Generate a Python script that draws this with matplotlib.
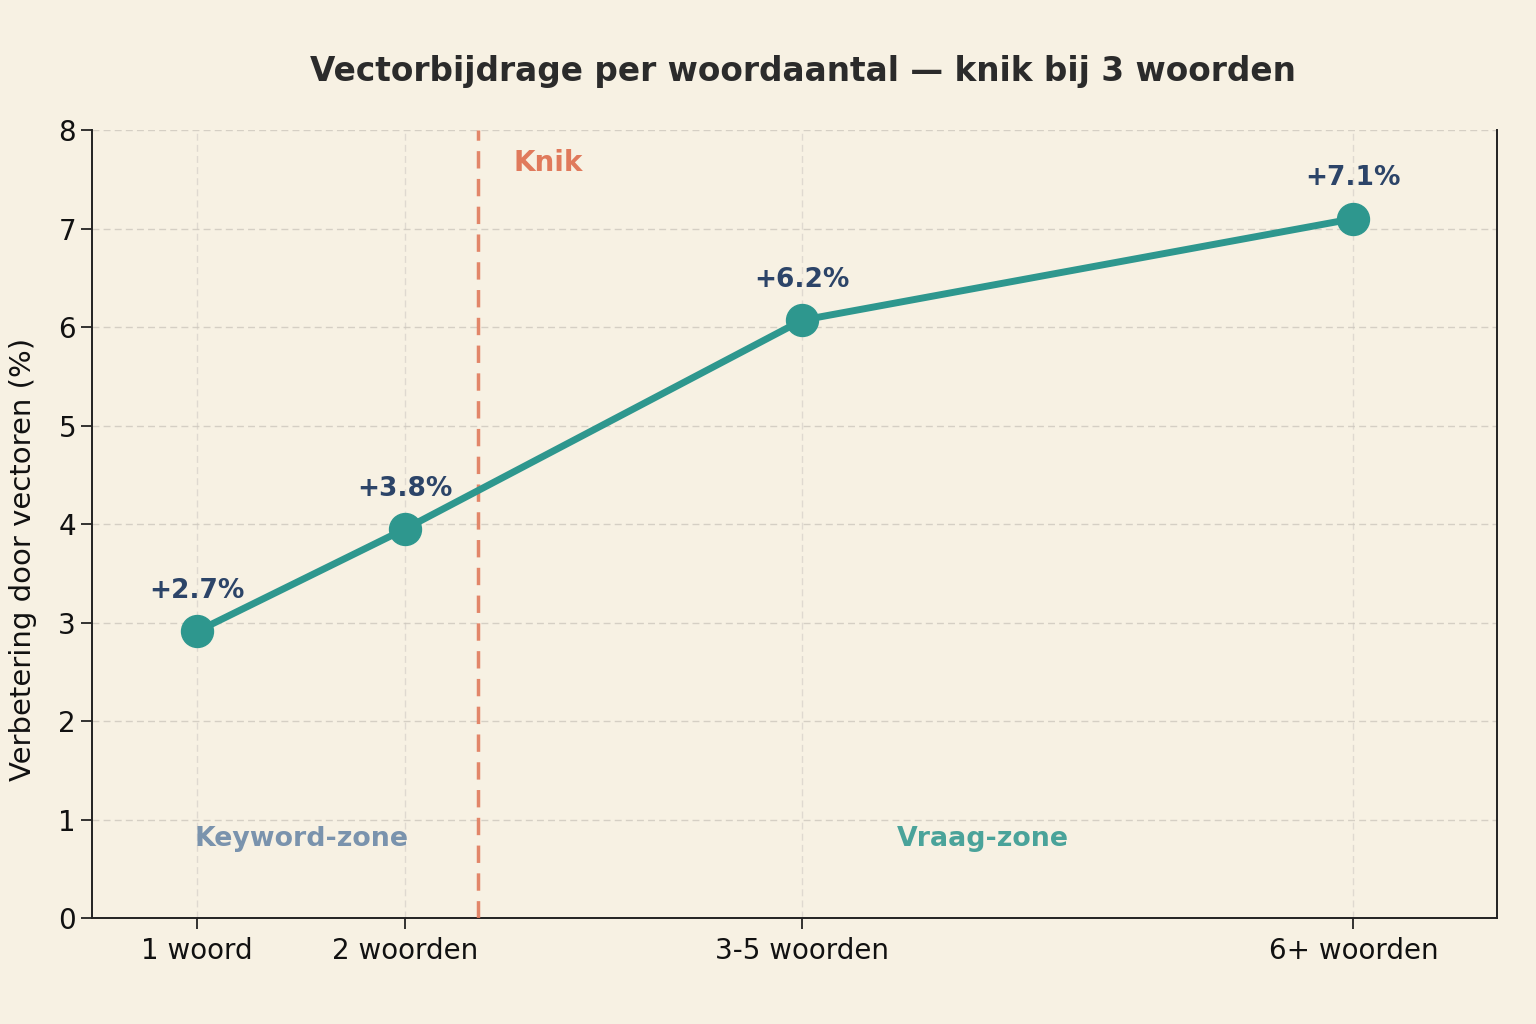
import matplotlib
matplotlib.use("Agg")
import matplotlib.pyplot as plt

# Data
categories = ["1 woord", "2 woorden", "3-5 woorden", "6+ woorden"]
x_pos = [1.0, 2.0, 3.91, 6.56]
values = [2.91, 3.95, 6.07, 7.1]
value_labels = ["+2.7%", "+3.8%", "+6.2%", "+7.1%"]
knik_x = 2.35
y_ticks = [0, 1, 2, 3, 4, 5, 6, 7, 8]

BG = "#f7f1e3"
TEAL = "#2e978e"
NAVY = "#2c4468"
KNIK = "#e07a5c"

plt.rcParams['font.family'] = ['DejaVu Sans']

fig = plt.figure(figsize=(15.36, 10.24), dpi=100, facecolor=BG)
ax = fig.add_axes([0.0599, 0.1035, 0.9147, 0.7695], facecolor=BG)

ax.plot(x_pos, values, color=TEAL, lw=5, marker='o', markersize=23,
        markerfacecolor=TEAL, markeredgecolor=TEAL, zorder=4)

for x, v, lab in zip(x_pos, values, value_labels):
    ax.annotate(lab, (x, v), xytext=(0, 29), textcoords='offset points',
                ha='center', va='center', fontsize=19, fontweight='bold',
                color=NAVY, zorder=5)

ax.axvline(knik_x, color=KNIK, lw=2.5, ls=(0, (5, 3)), alpha=0.9, zorder=3)
ax.text(knik_x + 0.17, 7.67, "Knik", color=KNIK, fontsize=20,
        fontweight='bold', ha='left', va='center')

ax.text(0.99, 0.8, "Keyword-zone", color="#7a93ad", fontsize=19.3,
        fontweight='bold', ha='left', va='center')
ax.text(4.78, 0.8, "Vraag-zone", color="#4aa39a", fontsize=19.3,
        fontweight='bold', ha='center', va='center')

ax.set_xlim(0.495, 7.25)
ax.set_ylim(0, 8)
ax.set_xticks(x_pos)
ax.set_xticklabels(categories)
ax.set_yticks(y_ticks)
ax.tick_params(axis='both', labelsize=20, length=8, width=1.2, colors='#111111')
ax.tick_params(axis='x', pad=6)

ax.grid(True, axis='y', color='#cdc7bd', ls=(0, (5, 3)), lw=1, alpha=0.8)
ax.grid(True, axis='x', color='#d6d0c8', ls=(0, (5, 3)), lw=1, alpha=0.7)
ax.set_axisbelow(True)

ax.spines['top'].set_visible(False)
for s in ['left', 'bottom', 'right']:
    ax.spines[s].set_color('#222222')
    ax.spines[s].set_linewidth(1.4)

ax.set_ylabel("Verbetering door vectoren (%)", fontsize=21, color='#111111')
ax.yaxis.set_label_coords(-0.039, 0.455)

fig.text(0.523, 0.930, "Vectorbijdrage per woordaantal — knik bij 3 woorden",
         ha='center', va='center', fontsize=23.6, fontweight='bold', color='#2b2b2b')

fig.savefig("out.png", dpi=100, facecolor=BG)
